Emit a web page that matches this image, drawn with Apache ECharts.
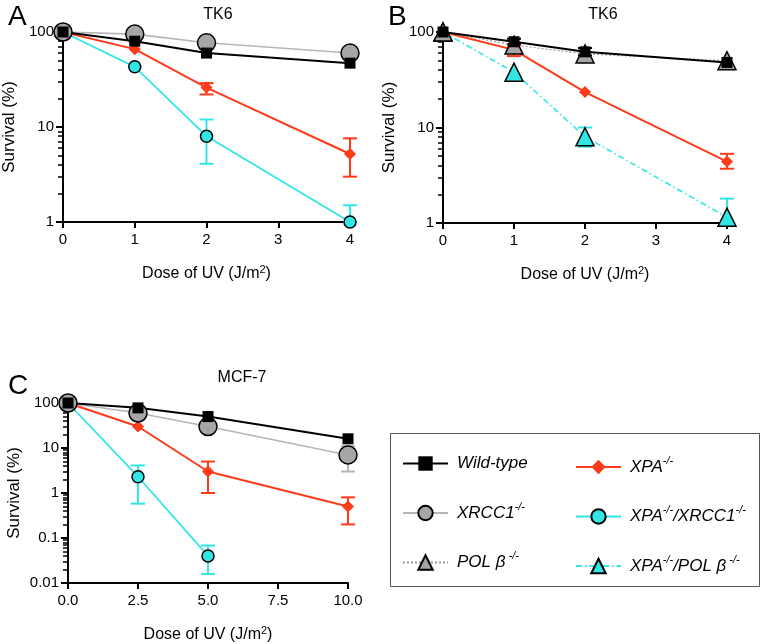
<!DOCTYPE html>
<html><head><meta charset="utf-8">
<script src="https://cdn.jsdelivr.net/npm/echarts@6/dist/echarts.min.js"></script>
<style>html,body{margin:0;padding:0;background:#fff}#c{width:761px;height:644px}</style>
</head><body><div id="c"></div>
<script>
// ---------- data ----------
const dosesTK6 = [0, 1, 2, 4];
const dosesMCF7 = [0, 2.5, 5, 10];

// Panel A (TK6)
const A_wt        = [100, 80, 60, 47];
const A_xrcc1     = [100, 95, 77, 60];
const A_xpa       = [100, 66, 26, 5.2];
const A_xpaLo     = [null, null, 22, 3.0];
const A_xpaHi     = [null, null, 29, 7.6];
const A_xpaXrcc1  = [100, 43, 8, 1];
const A_xpaXrcc1Lo= [null, null, 4.1, 1];
const A_xpaXrcc1Hi= [null, null, 12, 1.5];

// Panel B (TK6)
const B_wt        = [100, 79, 62, 48];
const B_wtLo      = [null, 75, 57, null];
const B_wtHi      = [null, 85, 68, null];
const B_polb      = [100, 73, 59, 50];
const B_xpa       = [100, 65, 23.5, 4.4];
const B_xpaLo     = [null, 56, null, 3.7];
const B_xpaHi     = [null, 72, null, 5.3];
const B_xpaPolb   = [100, 38, 8, 1.15];
const B_xpaPolbLo = [null, null, 6.3, 1];
const B_xpaPolbHi = [null, null, 10, 1.8];

// Panel C (MCF-7)
const C_wt        = [100, 78, 50, 16];
const C_xrcc1     = [100, 60, 30, 7];
const C_xrcc1Lo   = [null, null, null, 3];
const C_xrcc1Hi   = [null, null, null, 11];
const C_xpa       = [100, 30, 3, 0.5];
const C_xpaLo     = [null, null, 1, 0.2];
const C_xpaHi     = [null, null, 5, 0.8];
const C_xpaXrcc1  = [100, 2.3, 0.04, null];
const C_xpaXrcc1Lo= [null, 0.58, 0.0158, null];
const C_xpaXrcc1Hi= [null, 4.1, 0.068, null];

// tick labels / minor ticks
const xTicksTK6 = [0, 1, 2, 3, 4];
const xTicksMCF7 = ['0.0', '2.5', '5.0', '7.5', '10.0'];
const minorMult = [2, 3, 4, 5, 6, 7, 8, 9];
const decadesTK6 = [1, 10];
const decadesMCF7 = [0.01, 0.1, 1, 10];

const NAMES = ['Wild-type', 'XPA-/-', 'XRCC1-/-', 'XPA-/-/XRCC1-/-', 'POL β-/-', 'XPA-/-/POL β-/-'];
const LEGEND_RICH = {
  'Wild-type': '{t|Wild-type}',
  'XPA-/-': '{t|XPA}{s|-/-}',
  'XRCC1-/-': '{t|XRCC1}{s|-/-}',
  'XPA-/-/XRCC1-/-': '{t|XPA}{s|-/-}{t|/XRCC1}{s|-/-}',
  'POL β-/-': '{t|POL β}{s| -/-}',
  'XPA-/-/POL β-/-': '{t|XPA}{s|-/-}{t|/POL β}{s| -/-}'
};

// ---------- styles ----------
const FONT = 'Liberation Sans, Arial, Helvetica, sans-serif';
const RED = '#ff3a1a', CYAN = '#33e6e6', GRAYF = '#a6a6a6', GRAYL = '#b5b5b5';

const styles = {
  'Wild-type': {symbol: 'rect', symbolSize: 11, fill: '#000', border: '#000', line: '#000', lw: 2, type: 'solid'},
  'XPA-/-': {symbol: 'diamond', symbolSize: 12, fill: RED, border: RED, line: RED, lw: 2, type: 'solid'},
  'XRCC1-/-': {symbol: 'circle', symbolSize: 18, fill: GRAYF, border: '#000', line: GRAYL, lw: 1.6, type: 'solid'},
  'XPA-/-/XRCC1-/-': {symbol: 'circle', symbolSize: 12, fill: CYAN, border: '#000', line: CYAN, lw: 1.8, type: 'solid'},
  'POL β-/-': {symbol: 'triangle', symbolSize: 18, fill: GRAYF, border: '#000', line: '#999', lw: 1.2, type: [2, 2]},
  'XPA-/-/POL β-/-': {symbol: 'triangle', symbolSize: 18, fill: CYAN, border: '#000', line: CYAN, lw: 1.6, type: [6, 3, 1.5, 3]}
};

function lineSeries(name, idx, doses, vals) {
  const s = styles[name];
  const data = [];
  doses.forEach((d, i) => { if (vals[i] != null) data.push([d, vals[i]]); });
  return {
    type: 'line', name, xAxisIndex: idx, yAxisIndex: idx, data, z: 3,
    symbol: s.symbol, symbolSize: s.symbolSize, showSymbol: true, clip: false,
    itemStyle: {color: s.fill, borderColor: s.border, borderWidth: s.border === '#000' && s.fill !== '#000' ? 1.5 : 0},
    lineStyle: {color: s.line, width: s.lw, type: s.type},
    emphasis: {disabled: true}
  };
}

function errSeries(idx, doses, lo, hi, color) {
  const data = [];
  doses.forEach((d, i) => { if (lo[i] != null) data.push([d, lo[i], hi[i]]); });
  return {
    type: 'custom', xAxisIndex: idx, yAxisIndex: idx, z: 1, silent: true, clip: false,
    encode: {x: 0, y: [1, 2]}, data,
    renderItem: (params, api) => {
      const x = api.value(0);
      const pl = api.coord([x, api.value(1)]);
      const ph = api.coord([x, api.value(2)]);
      const w = 7;
      const st = {stroke: color, lineWidth: 2};
      return {type: 'group', children: [
        {type: 'line', shape: {x1: pl[0], y1: pl[1], x2: ph[0], y2: ph[1]}, style: st},
        {type: 'line', shape: {x1: ph[0] - w, y1: ph[1], x2: ph[0] + w, y2: ph[1]}, style: st},
        {type: 'line', shape: {x1: pl[0] - w, y1: pl[1], x2: pl[0] + w, y2: pl[1]}, style: st}
      ]};
    }
  };
}

function minorValues(decades) {
  const out = [];
  decades.forEach(dec => minorMult.forEach(m => out.push(+(dec * m).toPrecision(3))));
  return out;
}

const doseName = '{n|Dose of UV (J/m}{s|2}{n|)}';
function xAxis(idx, max, interval, labels) {
  return {
    type: 'value', gridIndex: idx, min: 0, max, interval,
    axisLine: {onZero: false, lineStyle: {color: '#000', width: 2}},
    axisTick: {length: 6, lineStyle: {color: '#000', width: 2}},
    axisLabel: {fontSize: 15, color: '#000', fontFamily: FONT, margin: 10,
      formatter: v => { const i = Math.round(v / interval); return labels[i] != null ? String(labels[i]) : ''; }},
    splitLine: {show: false},
    name: doseName, nameLocation: 'middle', nameGap: 42,
    nameTextStyle: {color: '#000', fontFamily: FONT, fontSize: 16,
      rich: {n: {fontSize: 16, fontFamily: FONT, color: '#000', lineHeight: 20},
             s: {fontSize: 11, fontFamily: FONT, color: '#000', verticalAlign: 'top', lineHeight: 12}}}
  };
}
function yAxis(idx, min, max, margin) {
  return {
    type: 'log', logBase: 10, gridIndex: idx, min, max, position: 'left',
    axisLine: {show: true, onZero: false, lineStyle: {color: '#000', width: 2}},
    axisTick: {show: true, length: 7, lineStyle: {color: '#000', width: 2}},
    axisLabel: {fontSize: 15, color: '#000', fontFamily: FONT, margin,
      formatter: v => String(+v.toPrecision(3))},
    splitLine: {show: false},
    name: 'Survival (%)', nameLocation: 'middle', nameGap: 45,
    nameTextStyle: {color: '#000', fontFamily: FONT, fontSize: 17}
  };
}
function yMinorAxis(idx, min, max, decades) {
  return {
    type: 'log', logBase: 10, gridIndex: idx, min, max, position: 'left', offset: 0,
    axisLine: {show: false},
    axisTick: {show: true, length: 5, customValues: minorValues(decades), lineStyle: {color: '#000', width: 1.5}},
    axisLabel: {show: false},
    splitLine: {show: false}
  };
}

const titleStyle = {color: '#000', fontFamily: FONT, fontSize: 16, fontWeight: 'normal'};
const letterStyle = {color: '#000', fontFamily: FONT, fontSize: 28, fontWeight: 'normal'};

const option = {
  animation: false,
  backgroundColor: '#fff',
  title: [
    {text: 'A', left: 3, top: -2, textStyle: letterStyle},
    {text: 'TK6', left: 213, top: 2, textAlign: 'center', textStyle: titleStyle},
    {text: 'B', left: 383, top: -2, textStyle: letterStyle},
    {text: 'TK6', left: 598, top: 2, textAlign: 'center', textStyle: titleStyle},
    {text: 'C', left: 3, top: 367, textStyle: letterStyle},
    {text: 'MCF-7', left: 237, top: 365, textAlign: 'center', textStyle: titleStyle}
  ],
  grid: [
    {left: 63, top: 32, width: 287, height: 190},
    {left: 443, top: 32, width: 284, height: 191},
    {left: 68, top: 403, width: 280, height: 188}
  ],
  xAxis: [xAxis(0, 4, 1, xTicksTK6), xAxis(1, 4, 1, xTicksTK6), xAxis(2, 10, 2.5, xTicksMCF7)],
  yAxis: [yAxis(0, 1, 100, 9), yAxis(1, 1, 100, 9), yAxis(2, 0.01, 100, 9),
          yMinorAxis(0, 1, 100, decadesTK6), yMinorAxis(1, 1, 100, decadesTK6), yMinorAxis(2, 0.01, 100, decadesMCF7)],
  legend: [0, 1].map(col => ({
    orient: 'vertical', left: col === 0 ? 397 : 570, top: 450,
    itemWidth: 45, itemHeight: 18, itemGap: 29,
    data: col === 0 ? [NAMES[0], NAMES[2], NAMES[4]] : [NAMES[1], NAMES[3], NAMES[5]],
    selectedMode: false,
    formatter: n => LEGEND_RICH[n],
    textStyle: {color: '#000', fontFamily: FONT, fontSize: 17, fontStyle: 'italic', padding: [0, 0, 0, 4],
      rich: {t: {fontSize: 17, fontStyle: 'italic', fontFamily: FONT, color: '#000', lineHeight: 24},
             s: {fontSize: 11, fontStyle: 'italic', fontFamily: FONT, color: '#000', verticalAlign: 'top', lineHeight: 13}}}
  })),
  graphic: [
    {type: 'rect', shape: {x: 390.5, y: 433.5, width: 369, height: 153}, style: {fill: 'none', stroke: '#555', lineWidth: 1}, silent: true}
  ],
  series: [
    // Panel A
    errSeries(0, dosesTK6, A_xpaXrcc1Lo, A_xpaXrcc1Hi, CYAN),
    errSeries(0, dosesTK6, A_xpaLo, A_xpaHi, RED),
    lineSeries('XPA-/-/XRCC1-/-', 0, dosesTK6, A_xpaXrcc1),
    lineSeries('XPA-/-', 0, dosesTK6, A_xpa),
    lineSeries('XRCC1-/-', 0, dosesTK6, A_xrcc1),
    lineSeries('Wild-type', 0, dosesTK6, A_wt),
    // Panel B
    errSeries(1, dosesTK6, B_xpaPolbLo, B_xpaPolbHi, CYAN),
    errSeries(1, dosesTK6, B_xpaLo, B_xpaHi, RED),
    errSeries(1, dosesTK6, B_wtLo, B_wtHi, '#000'),
    lineSeries('XPA-/-/POL β-/-', 1, dosesTK6, B_xpaPolb),
    lineSeries('XPA-/-', 1, dosesTK6, B_xpa),
    lineSeries('POL β-/-', 1, dosesTK6, B_polb),
    lineSeries('Wild-type', 1, dosesTK6, B_wt),
    // Panel C
    errSeries(2, dosesMCF7, C_xpaXrcc1Lo, C_xpaXrcc1Hi, CYAN),
    errSeries(2, dosesMCF7, C_xpaLo, C_xpaHi, RED),
    errSeries(2, dosesMCF7, C_xrcc1Lo, C_xrcc1Hi, GRAYL),
    lineSeries('XPA-/-/XRCC1-/-', 2, dosesMCF7, C_xpaXrcc1),
    lineSeries('XPA-/-', 2, dosesMCF7, C_xpa),
    lineSeries('XRCC1-/-', 2, dosesMCF7, C_xrcc1),
    lineSeries('Wild-type', 2, dosesMCF7, C_wt)
  ]
};

const chart = echarts.init(document.getElementById('c'), null, {renderer: 'canvas'});
chart.setOption(option);
</script>
</body></html>
